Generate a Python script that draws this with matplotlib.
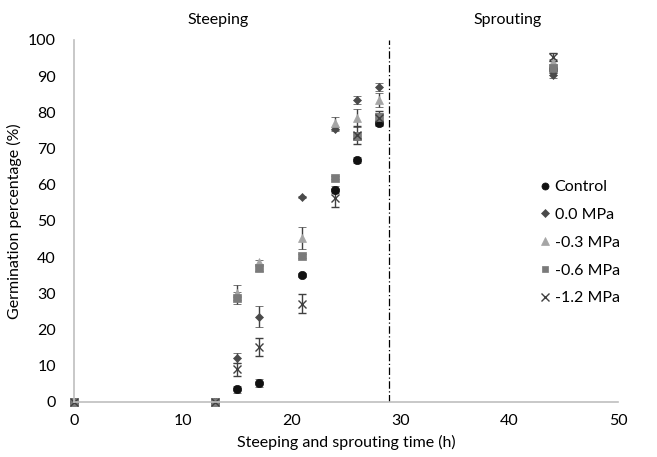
import matplotlib.pyplot as plt

plt.rcParams['font.family'] = ['Lato', 'DejaVu Sans']

# Germination data (%), mean and error per sampling time
time = [0, 13, 15, 17, 21, 24, 26, 28, 44]

control = [0, 0, 3.5, 5.2, 35.1, 58.6, 66.9, 77.0, 92.0]
control_err = [0, 0, 1.0, 1.2, 0.5, 1.0, 0.8, 0.8, 1.0]

mpa_00 = [0, 0, 12.1, 23.5, 56.6, 75.4, 83.4, 87.0, 90.2]
mpa_00_err = [0, 0, 1.3, 2.9, 0.3, 0.5, 1.0, 1.0, 0.8]

mpa_03 = [0, 0, 30.2, 38.7, 45.3, 77.0, 78.5, 83.4, 93.8]
mpa_03_err = [0, 0, 2.0, 0.5, 3.0, 1.8, 2.5, 2.0, 1.0]

mpa_06 = [0, 0, 28.7, 37.0, 40.3, 62.0, 73.5, 78.7, 92.3]
mpa_06_err = [0, 0, 1.7, 0.8, 0.5, 0.5, 1.0, 1.0, 1.0]

mpa_12 = [0, 0, 9.0, 15.2, 27.2, 56.4, 73.8, 78.5, 95.3]
mpa_12_err = [0, 0, 1.7, 2.6, 2.5, 2.5, 2.5, 2.0, 1.0]

series = [
    ('Control', control, control_err, 'o', '#111111', 6),
    ('0.0 MPa', mpa_00, mpa_00_err, 'D', '#4a4a4a', 4.5),
    ('-0.3 MPa', mpa_03, mpa_03_err, '^', '#a5a5a5', 6),
    ('-0.6 MPa', mpa_06, mpa_06_err, 's', '#7a7a7a', 5.5),
    ('-1.2 MPa', mpa_12, mpa_12_err, 'x', '#404040', 6),
]

fig = plt.figure(figsize=(6.57, 4.57), dpi=100)
ax = fig.add_axes([0.1126, 0.1204, 0.828, 0.7921])

for name, y, err, mk, col, ms in series:
    bars = ax.errorbar(time, y, yerr=err, fmt=mk, color=col, ecolor='#404040',
                       elinewidth=1, capsize=3, capthick=1, ms=ms,
                       markeredgewidth=1.0 if mk == 'x' else 0.5, label=name)
    bars.lines[0].set_clip_on(False)

ax.axvline(29, ymin=0, ymax=1, color='black', linestyle=(0, (6, 2, 1, 2)), lw=0.9)

ax.set_xlim(0, 50)
ax.set_ylim(0, 100)
ax.set_xticks(range(0, 51, 10))
ax.set_yticks(range(0, 101, 10))
ax.tick_params(length=0, labelsize=11.5)
ax.tick_params(axis='x', pad=9)
ax.tick_params(axis='y', pad=13)

for side in ['top', 'right']:
    ax.spines[side].set_visible(False)
for side in ['left', 'bottom']:
    ax.spines[side].set_color('#bfbfbf')
    ax.spines[side].set_linewidth(1.2)

ax.set_xlabel('Steeping and sprouting time (h)', fontsize=11.5, labelpad=5)
ax.set_ylabel('Germination percentage (%)', fontsize=11.5, labelpad=4)

fig.text(218 / 657, 1 - 20 / 457, 'Steeping', fontsize=11.5, ha='center', va='center')
fig.text(508 / 657, 1 - 20 / 457, 'Sprouting', fontsize=11.5, ha='center', va='center')

handles, labels = ax.get_legend_handles_labels()
leg = ax.legend([h[0] for h in handles], labels, frameon=False, fontsize=11.5,
                loc='center left', bbox_to_anchor=(0.825, 0.44),
                handletextpad=0.1, handlelength=1.0, labelspacing=0.85,
                markerscale=0.85)

fig.savefig('out.png', dpi=100)
